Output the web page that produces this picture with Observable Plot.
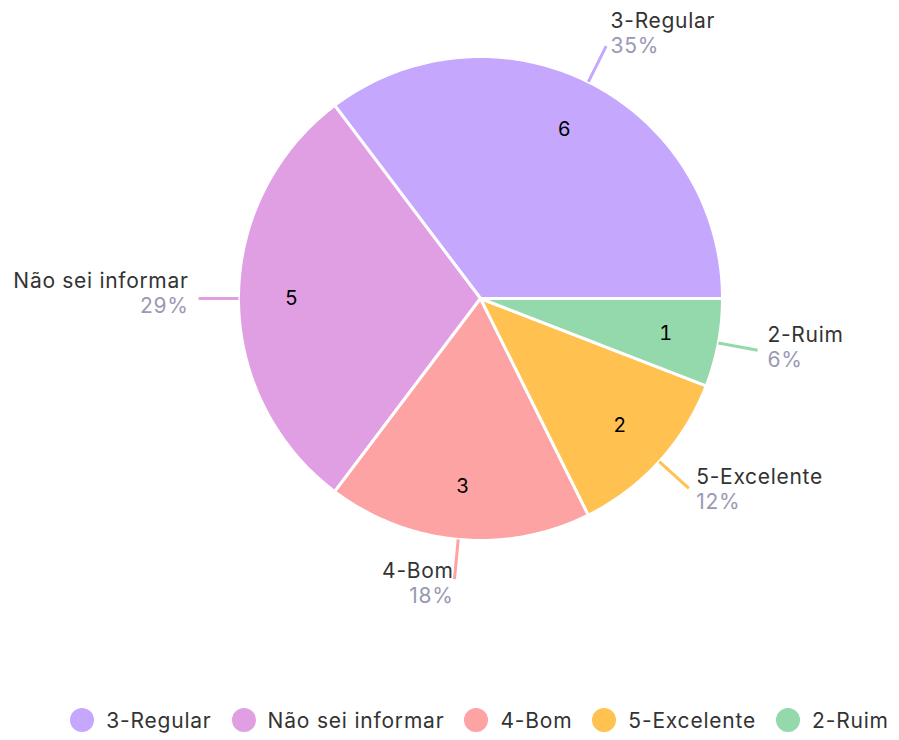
<!DOCTYPE html>
<html>
<head>
<meta charset="utf-8">
<script src="https://cdn.jsdelivr.net/npm/d3@7"></script>
<script src="https://cdn.jsdelivr.net/npm/@observablehq/plot@0.6"></script>
<style>
  body { margin: 0; background: #fff; font-family: Inter, "Noto Sans", sans-serif; }
  #legendWrap { width: 899px; height: 40px; display: flex; justify-content: center; align-items: center; overflow: visible; }
  #legend { display: flex; align-items: center; flex-shrink: 0; white-space: nowrap; position: relative; left: 30px; }
  .item { display: flex; align-items: center; margin: 0 10px; flex-shrink: 0; white-space: nowrap; }
  .sw { width: 24px; height: 24px; border-radius: 50%; margin-right: 12px; flex-shrink: 0; }
  .lbl { font-size: 21px; color: #333; letter-spacing: 0.8px; white-space: nowrap; }
</style>
</head>
<body>
<div id="chart"></div>
<div id="legendWrap"><div id="legend"></div></div>
<script>
const categories = ["3-Regular", "Não sei informar", "4-Bom", "5-Excelente", "2-Ruim"];
const counts = [6, 5, 3, 2, 1];
const percentLabels = ["35%", "29%", "18%", "12%", "6%"];
const colors = ["#c5a8fe", "#e09fe2", "#fda3a3", "#ffc150", "#93d9ab"];

const total = d3.sum(counts);
const PX = 242; // pixels per data unit (pie radius)
let cum = 0;
const slices = categories.map((c, i) => {
  const a0 = cum / total * 2 * Math.PI;
  cum += counts[i];
  const a1 = cum / total * 2 * Math.PI;
  const am = (a0 + a1) / 2;
  const cos = Math.cos(am), sin = Math.sin(am);
  const rEnd = 1.165;
  const ex = cos * rEnd, ey = sin * rEnd;
  const blockOff = (3 - 9 * sin) / PX;
  const cy = ey - blockOff;
  return {
    category: c, count: counts[i], pct: percentLabels[i], a0, a1, am, cos, sin,
    cx: cos * 0.78, cy0: sin * 0.78,
    lx1: cos, ly1: sin, lx2: ex, ly2: ey,
    tx: ex + cos * 10 / PX,
    nameY: cy + 20 / PX,
    pctY: cy - 5 / PX,
    right: cos > 0
  };
});

const poly = [];
slices.forEach(s => {
  const n = Math.max(8, Math.ceil((s.a1 - s.a0) / (Math.PI / 180)));
  poly.push({category: s.category, x: 0, y: 0});
  for (let k = 0; k <= n; k++) {
    const a = s.a0 + (s.a1 - s.a0) * k / n;
    poly.push({category: s.category, x: Math.cos(a), y: Math.sin(a)});
  }
  poly.push({category: s.category, x: 0, y: 0});
});

const chart = Plot.plot({
  width: 899,
  height: 700,
  margin: 0,
  x: {domain: [-1, 1], range: [480 - PX, 480 + PX], axis: null},
  y: {domain: [-1, 1], range: [298 + PX, 298 - PX], axis: null},
  color: {domain: categories, range: colors},
  style: {fontFamily: "Inter, 'Noto Sans', sans-serif", background: "#fff", letterSpacing: "0.7px"},
  marks: [
    Plot.line(poly, {x: "x", y: "y", z: "category", fill: "category", stroke: "#fff", strokeWidth: 3, strokeLinejoin: "round"}),
    Plot.link(slices, {x1: "lx1", y1: "ly1", x2: "lx2", y2: "ly2", stroke: "category", strokeWidth: 3}),
    Plot.text(slices, {x: "cx", y: "cy0", text: "count", fill: "#000", fontSize: 20}),
    Plot.text(slices.filter(d => d.right), {x: "tx", y: "nameY", text: "category", textAnchor: "start", fill: "#333", fontSize: 21}),
    Plot.text(slices.filter(d => !d.right), {x: "tx", y: "nameY", text: "category", textAnchor: "end", fill: "#333", fontSize: 21}),
    Plot.text(slices.filter(d => d.right), {x: "tx", y: "pctY", text: "pct", textAnchor: "start", fill: "#9999b3", fontSize: 21}),
    Plot.text(slices.filter(d => !d.right), {x: "tx", y: "pctY", text: "pct", textAnchor: "end", fill: "#9999b3", fontSize: 21})
  ]
});
document.getElementById("chart").appendChild(chart);

const legend = document.getElementById("legend");
categories.forEach((c, i) => {
  const it = document.createElement("div");
  it.className = "item";
  const sw = document.createElement("span");
  sw.className = "sw";
  sw.style.background = colors[i];
  const lb = document.createElement("span");
  lb.className = "lbl";
  lb.textContent = c;
  it.appendChild(sw); it.appendChild(lb);
  legend.appendChild(it);
});
</script>
</body>
</html>
